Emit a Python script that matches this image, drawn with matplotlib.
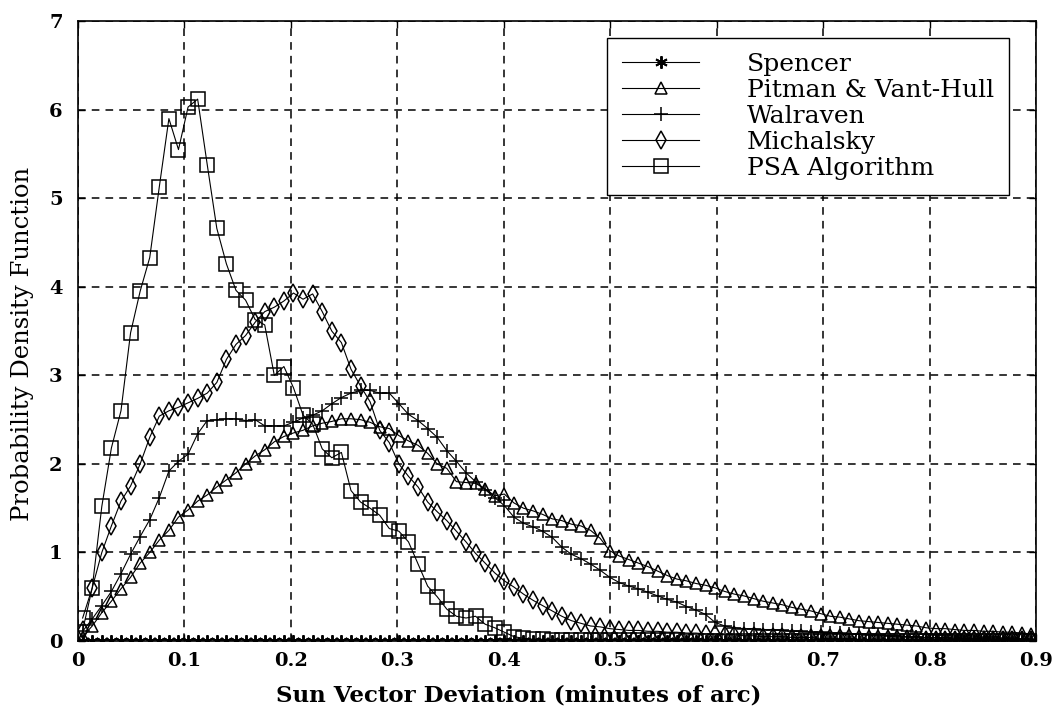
import numpy as np
import matplotlib.pyplot as plt

# histogram bins of the sun vector deviation (minutes of arc)
bin_width = 0.009
n_bins = 100
x = bin_width / 2 + bin_width * np.arange(n_bins)

spencer = [
    0.0, 0.0, 0.0, 0.0, 0.0, 0.0, 0.0, 0.0, 0.0, 0.0,
    0.0, 0.0, 0.0, 0.0, 0.0, 0.0, 0.0, 0.0, 0.0, 0.0,
    0.0, 0.0, 0.0, 0.0, 0.0, 0.0, 0.0, 0.0, 0.0, 0.0,
    0.0, 0.0, 0.0, 0.0, 0.0, 0.0, 0.0, 0.0, 0.0, 0.0,
    0.0, 0.0, 0.0, 0.0, 0.0, 0.0, 0.0, 0.0, 0.0, 0.0,
    0.0, 0.0, 0.0, 0.0, 0.0, 0.0, 0.0, 0.0, 0.0, 0.0,
    0.0, 0.0, 0.0, 0.0, 0.0, 0.0, 0.0, 0.0, 0.0, 0.0,
    0.0, 0.0, 0.0, 0.0, 0.0, 0.0, 0.0, 0.0, 0.0, 0.0,
    0.0, 0.0, 0.0, 0.0, 0.0, 0.0, 0.0, 0.0, 0.0, 0.0,
    0.0, 0.0, 0.0, 0.0, 0.0, 0.0, 0.0, 0.0, 0.0, 0.0,
]

pitman = [
    0.05, 0.17, 0.32, 0.45, 0.59, 0.72, 0.88, 1.00, 1.14, 1.25,
    1.40, 1.48, 1.58, 1.65, 1.74, 1.82, 1.90, 2.00, 2.09, 2.16,
    2.25, 2.31, 2.35, 2.38, 2.43, 2.46, 2.48, 2.51, 2.51, 2.50,
    2.47, 2.42, 2.40, 2.32, 2.26, 2.21, 2.12, 2.00, 1.95, 1.80,
    1.79, 1.78, 1.72, 1.64, 1.66, 1.56, 1.50, 1.47, 1.43, 1.38,
    1.36, 1.32, 1.30, 1.25, 1.16, 1.02, 0.96, 0.92, 0.88, 0.84,
    0.79, 0.74, 0.70, 0.68, 0.65, 0.63, 0.60, 0.56, 0.53, 0.51,
    0.48, 0.45, 0.43, 0.41, 0.38, 0.36, 0.34, 0.31, 0.28, 0.27,
    0.25, 0.23, 0.22, 0.21, 0.20, 0.19, 0.18, 0.17, 0.15, 0.14,
    0.14, 0.13, 0.12, 0.12, 0.11, 0.11, 0.10, 0.10, 0.09, 0.08,
]

walraven = [
    0.11, 0.25, 0.40, 0.56, 0.76, 0.98, 1.18, 1.37, 1.62, 1.92,
    2.03, 2.11, 2.34, 2.49, 2.50, 2.51, 2.51, 2.49, 2.50, 2.43,
    2.43, 2.43, 2.47, 2.52, 2.55, 2.60, 2.68, 2.75, 2.80, 2.83,
    2.83, 2.80, 2.80, 2.68, 2.56, 2.49, 2.40, 2.30, 2.15, 2.03,
    1.90, 1.80, 1.71, 1.62, 1.53, 1.40, 1.33, 1.29, 1.24, 1.17,
    1.06, 0.98, 0.93, 0.87, 0.80, 0.72, 0.66, 0.62, 0.59, 0.55,
    0.51, 0.47, 0.44, 0.39, 0.35, 0.30, 0.21, 0.17, 0.15, 0.14,
    0.14, 0.13, 0.13, 0.12, 0.11, 0.11, 0.10, 0.10, 0.09, 0.09,
    0.08, 0.08, 0.07, 0.07, 0.06, 0.06, 0.05, 0.05, 0.04, 0.04,
    0.04, 0.03, 0.03, 0.03, 0.03, 0.02, 0.02, 0.02, 0.02, 0.02,
]

michalsky = [
    0.12, 0.60, 1.00, 1.30, 1.58, 1.75, 2.00, 2.30, 2.54, 2.60,
    2.64, 2.69, 2.74, 2.80, 2.92, 3.18, 3.35, 3.45, 3.60, 3.72,
    3.77, 3.84, 3.93, 3.86, 3.92, 3.72, 3.50, 3.37, 3.07, 2.88,
    2.70, 2.38, 2.24, 2.00, 1.86, 1.74, 1.57, 1.46, 1.36, 1.24,
    1.12, 0.99, 0.88, 0.77, 0.68, 0.61, 0.53, 0.46, 0.40, 0.34,
    0.28, 0.23, 0.20, 0.17, 0.16, 0.14, 0.13, 0.12, 0.12, 0.11,
    0.11, 0.10, 0.10, 0.09, 0.09, 0.08, 0.08, 0.07, 0.07, 0.06,
    0.06, 0.05, 0.05, 0.05, 0.04, 0.04, 0.04, 0.03, 0.03, 0.03,
    0.03, 0.02, 0.02, 0.02, 0.02, 0.02, 0.02, 0.01, 0.01, 0.01,
    0.01, 0.01, 0.01, 0.01, 0.01, 0.01, 0.01, 0.01, 0.01, 0.01,
]

psa = [
    0.26, 0.60, 1.52, 2.18, 2.60, 3.48, 3.95, 4.33, 5.13, 5.90,
    5.55, 6.03, 6.12, 5.38, 4.66, 4.26, 3.96, 3.85, 3.63, 3.57,
    3.00, 3.10, 2.86, 2.55, 2.45, 2.17, 2.07, 2.13, 1.70, 1.57,
    1.50, 1.42, 1.27, 1.24, 1.12, 0.87, 0.62, 0.50, 0.36, 0.28,
    0.26, 0.28, 0.19, 0.15, 0.10, 0.05, 0.03, 0.02, 0.02, 0.01,
    0.01, 0.01, 0.01, 0.01, 0.01, 0.01, 0.01, 0.01, 0.01, 0.01,
    0.01, 0.01, 0.01, 0.0, 0.0, 0.0, 0.0, 0.0, 0.0, 0.0,
    0.0, 0.0, 0.0, 0.0, 0.0, 0.0, 0.0, 0.0, 0.0, 0.0,
    0.0, 0.0, 0.0, 0.0, 0.0, 0.0, 0.0, 0.0, 0.0, 0.0,
    0.0, 0.0, 0.0, 0.0, 0.0, 0.0, 0.0, 0.0, 0.0, 0.0,
]

labels = ['Spencer', 'Pitman & Vant-Hull', 'Walraven', 'Michalsky', 'PSA Algorithm']
x_ticks = [0, 0.1, 0.2, 0.3, 0.4, 0.5, 0.6, 0.7, 0.8, 0.9]
x_tick_labels = ['0', '0.1', '0.2', '0.3', '0.4', '0.5', '0.6', '0.7', '0.8', '0.9']
y_ticks = [0, 1, 2, 3, 4, 5, 6, 7]

plt.rcParams['font.family'] = ['DejaVu Serif']

fig = plt.figure(figsize=(10.52, 7.06), dpi=100)
ax = fig.add_axes([0.074, 0.092, 0.911, 0.878])

line_kw = dict(color='black', linewidth=0.8, markerfacecolor='none',
               markeredgecolor='black', markeredgewidth=1.1)

ax.plot(x, spencer, marker=(6, 2, 0), markersize=9, label=labels[0],
        **{**line_kw, 'markeredgewidth': 1.4})
ax.plot(x, pitman, marker='^', markersize=9, label=labels[1], **line_kw)
ax.plot(x, walraven, marker='+', markersize=10, label=labels[2], **line_kw)
ax.plot(x, michalsky, marker='d', markersize=9, label=labels[3], **line_kw)
ax.plot(x, psa, marker='s', markersize=9.5, label=labels[4], **line_kw)

ax.set_xlim(0, 0.9)
ax.set_ylim(0, 7)
ax.set_xticks(x_ticks)
ax.set_xticklabels(x_tick_labels)
ax.set_yticks(y_ticks)
ax.tick_params(direction='in', length=5, width=1, top=True, right=True,
               labelsize=14)
ax.tick_params(axis='y', pad=11)
ax.tick_params(axis='x', pad=8)
for lab in ax.get_xticklabels() + ax.get_yticklabels():
    lab.set_fontweight('bold')
for side in ax.spines.values():
    side.set_linewidth(1.2)

ax.grid(True, color='black', linestyle=(0, (5, 4)), linewidth=1.1)
ax.set_axisbelow(True)

ax.set_xlabel('Sun Vector Deviation (minutes of arc)', fontsize=16.5,
              fontweight='bold')
ax.xaxis.set_label_coords(0.46, -0.07)
ax.set_ylabel('Probability Density Function', fontsize=17.5)
ax.yaxis.set_label_coords(-0.046, 0.48)

leg = ax.legend(loc='upper left', bbox_to_anchor=(0.552, 0.973),
                borderaxespad=0, fontsize=18, handlelength=3.1,
                handletextpad=1.9, labelspacing=0.12, borderpad=0.6,
                fancybox=False, framealpha=1, edgecolor='black')
leg.get_frame().set_linewidth(1.0)

fig.savefig('out.png', dpi=100)
